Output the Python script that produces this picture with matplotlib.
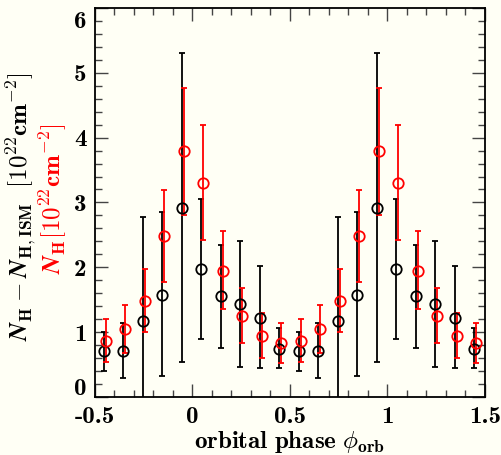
import matplotlib
matplotlib.use("Agg")
import matplotlib.pyplot as plt
import matplotlib.transforms as mtransforms
import numpy as np

plt.rcParams["mathtext.fontset"] = "cm"
plt.rcParams["axes.unicode_minus"] = False

# One orbital cycle of phase bins (plotted twice, second cycle shifted by +1)
phase = np.array([-0.45, -0.35, -0.25, -0.15, -0.05, 0.05, 0.15, 0.25, 0.35, 0.45])

# N_H - N_H,ISM (black) with error bar ends
nh_excess = np.array([0.71, 0.71, 1.17, 1.58, 2.92, 1.97, 1.56, 1.43, 1.22, 0.74])
nh_excess_hi = np.array([1.01, 1.14, 2.77, 2.85, 5.31, 3.06, 2.34, 2.41, 2.02, 1.06])
nh_excess_lo = np.array([0.40, 0.29, -0.40, 0.32, 0.54, 0.89, 0.76, 0.46, 0.45, 0.45])

# total N_H (red) with error bar ends
nh_total = np.array([0.87, 1.05, 1.48, 2.48, 3.79, 3.30, 1.95, 1.25, 0.94, 0.84])
nh_total_hi = np.array([1.20, 1.42, 1.97, 3.19, 4.77, 4.19, 2.56, 1.68, 1.30, 1.15])
nh_total_lo = np.array([0.55, 0.68, 1.00, 1.77, 2.80, 2.42, 1.36, 0.83, 0.61, 0.52])

x_ticks = [-0.5, 0, 0.5, 1, 1.5]
x_ticklabels = ["-0.5", "0", "0.5", "1", "1.5"]
y_ticks = [0, 1, 2, 3, 4, 5, 6]
y_ticklabels = ["0", "1", "2", "3", "4", "5", "6"]

bg = "#fffff5"
fig = plt.figure(figsize=(5.02, 4.55), dpi=100, facecolor=bg)
ax = fig.add_axes([0.189, 0.127, 0.777, 0.856], facecolor=bg)

# two cycles
x2 = np.concatenate([phase, phase + 1])


def two(a):
    return np.concatenate([a, a])


for y, hi, lo, col, dx in [
    (nh_excess, nh_excess_hi, nh_excess_lo, "black", -0.004),
    (nh_total, nh_total_hi, nh_total_lo, "red", 0.005),
]:
    yy = two(y)
    err = [yy - two(lo), two(hi) - yy]
    ax.errorbar(x2 + dx, yy, yerr=err, fmt="o", color=col, mfc="none",
                mec=col, ms=7.5, mew=1.3, elinewidth=1.3, capsize=2.2,
                capthick=1.3)

ax.set_xlim(-0.5, 1.5)
ax.set_ylim(0, 6)

ax.set_xticks(x_ticks)
ax.set_xticklabels(x_ticklabels)
ax.set_xticks(np.arange(-0.5, 1.51, 0.1), minor=True)
ax.set_yticks(y_ticks)
ax.set_yticklabels(y_ticklabels)
ax.set_yticks(np.arange(0, 6.01, 0.2), minor=True)

ax.tick_params(which="both", direction="in", top=True, right=True,
               color="#444444", width=1.0)
ax.tick_params(which="major", length=9.5, pad=6)
ax.tick_params(which="minor", length=5)
for lab in ax.get_xticklabels() + ax.get_yticklabels():
    lab.set_fontfamily("cmb10")
    lab.set_fontsize(18)

for sp in ax.spines.values():
    sp.set_linewidth(1.3)

# shift end labels of the y axis inwards, as in the original plot
yt = ax.yaxis.get_major_ticks()
yt[0].label1.set_transform(yt[0].label1.get_transform() +
                           mtransforms.ScaledTranslation(0, 10.5 / 100, fig.dpi_scale_trans))
yt[-1].label1.set_transform(yt[-1].label1.get_transform() +
                            mtransforms.ScaledTranslation(0, -12 / 100, fig.dpi_scale_trans))

ax.set_xlabel(r"$\mathbf{orbital\ phase}\ \phi_{\mathbf{orb}}$", fontsize=18, labelpad=1)

ax.text(-0.19, 0.49, r"$\mathbfit{N}_{\mathbf{H}} - \mathbfit{N}_{\mathbf{H,ISM}}\ \ \mathbf{[10^{22}cm^{-2}]}$",
        transform=ax.transAxes, rotation=90, ha="center", va="center",
        fontsize=18, color="black")
ax.text(-0.108, 0.51, r"$\mathbfit{N}_{\mathbf{H}}\mathbf{[10^{22}cm^{-2}]}$",
        transform=ax.transAxes, rotation=90, ha="center", va="center",
        fontsize=18, color="red")

fig.savefig("out.png", dpi=100, facecolor=bg)
